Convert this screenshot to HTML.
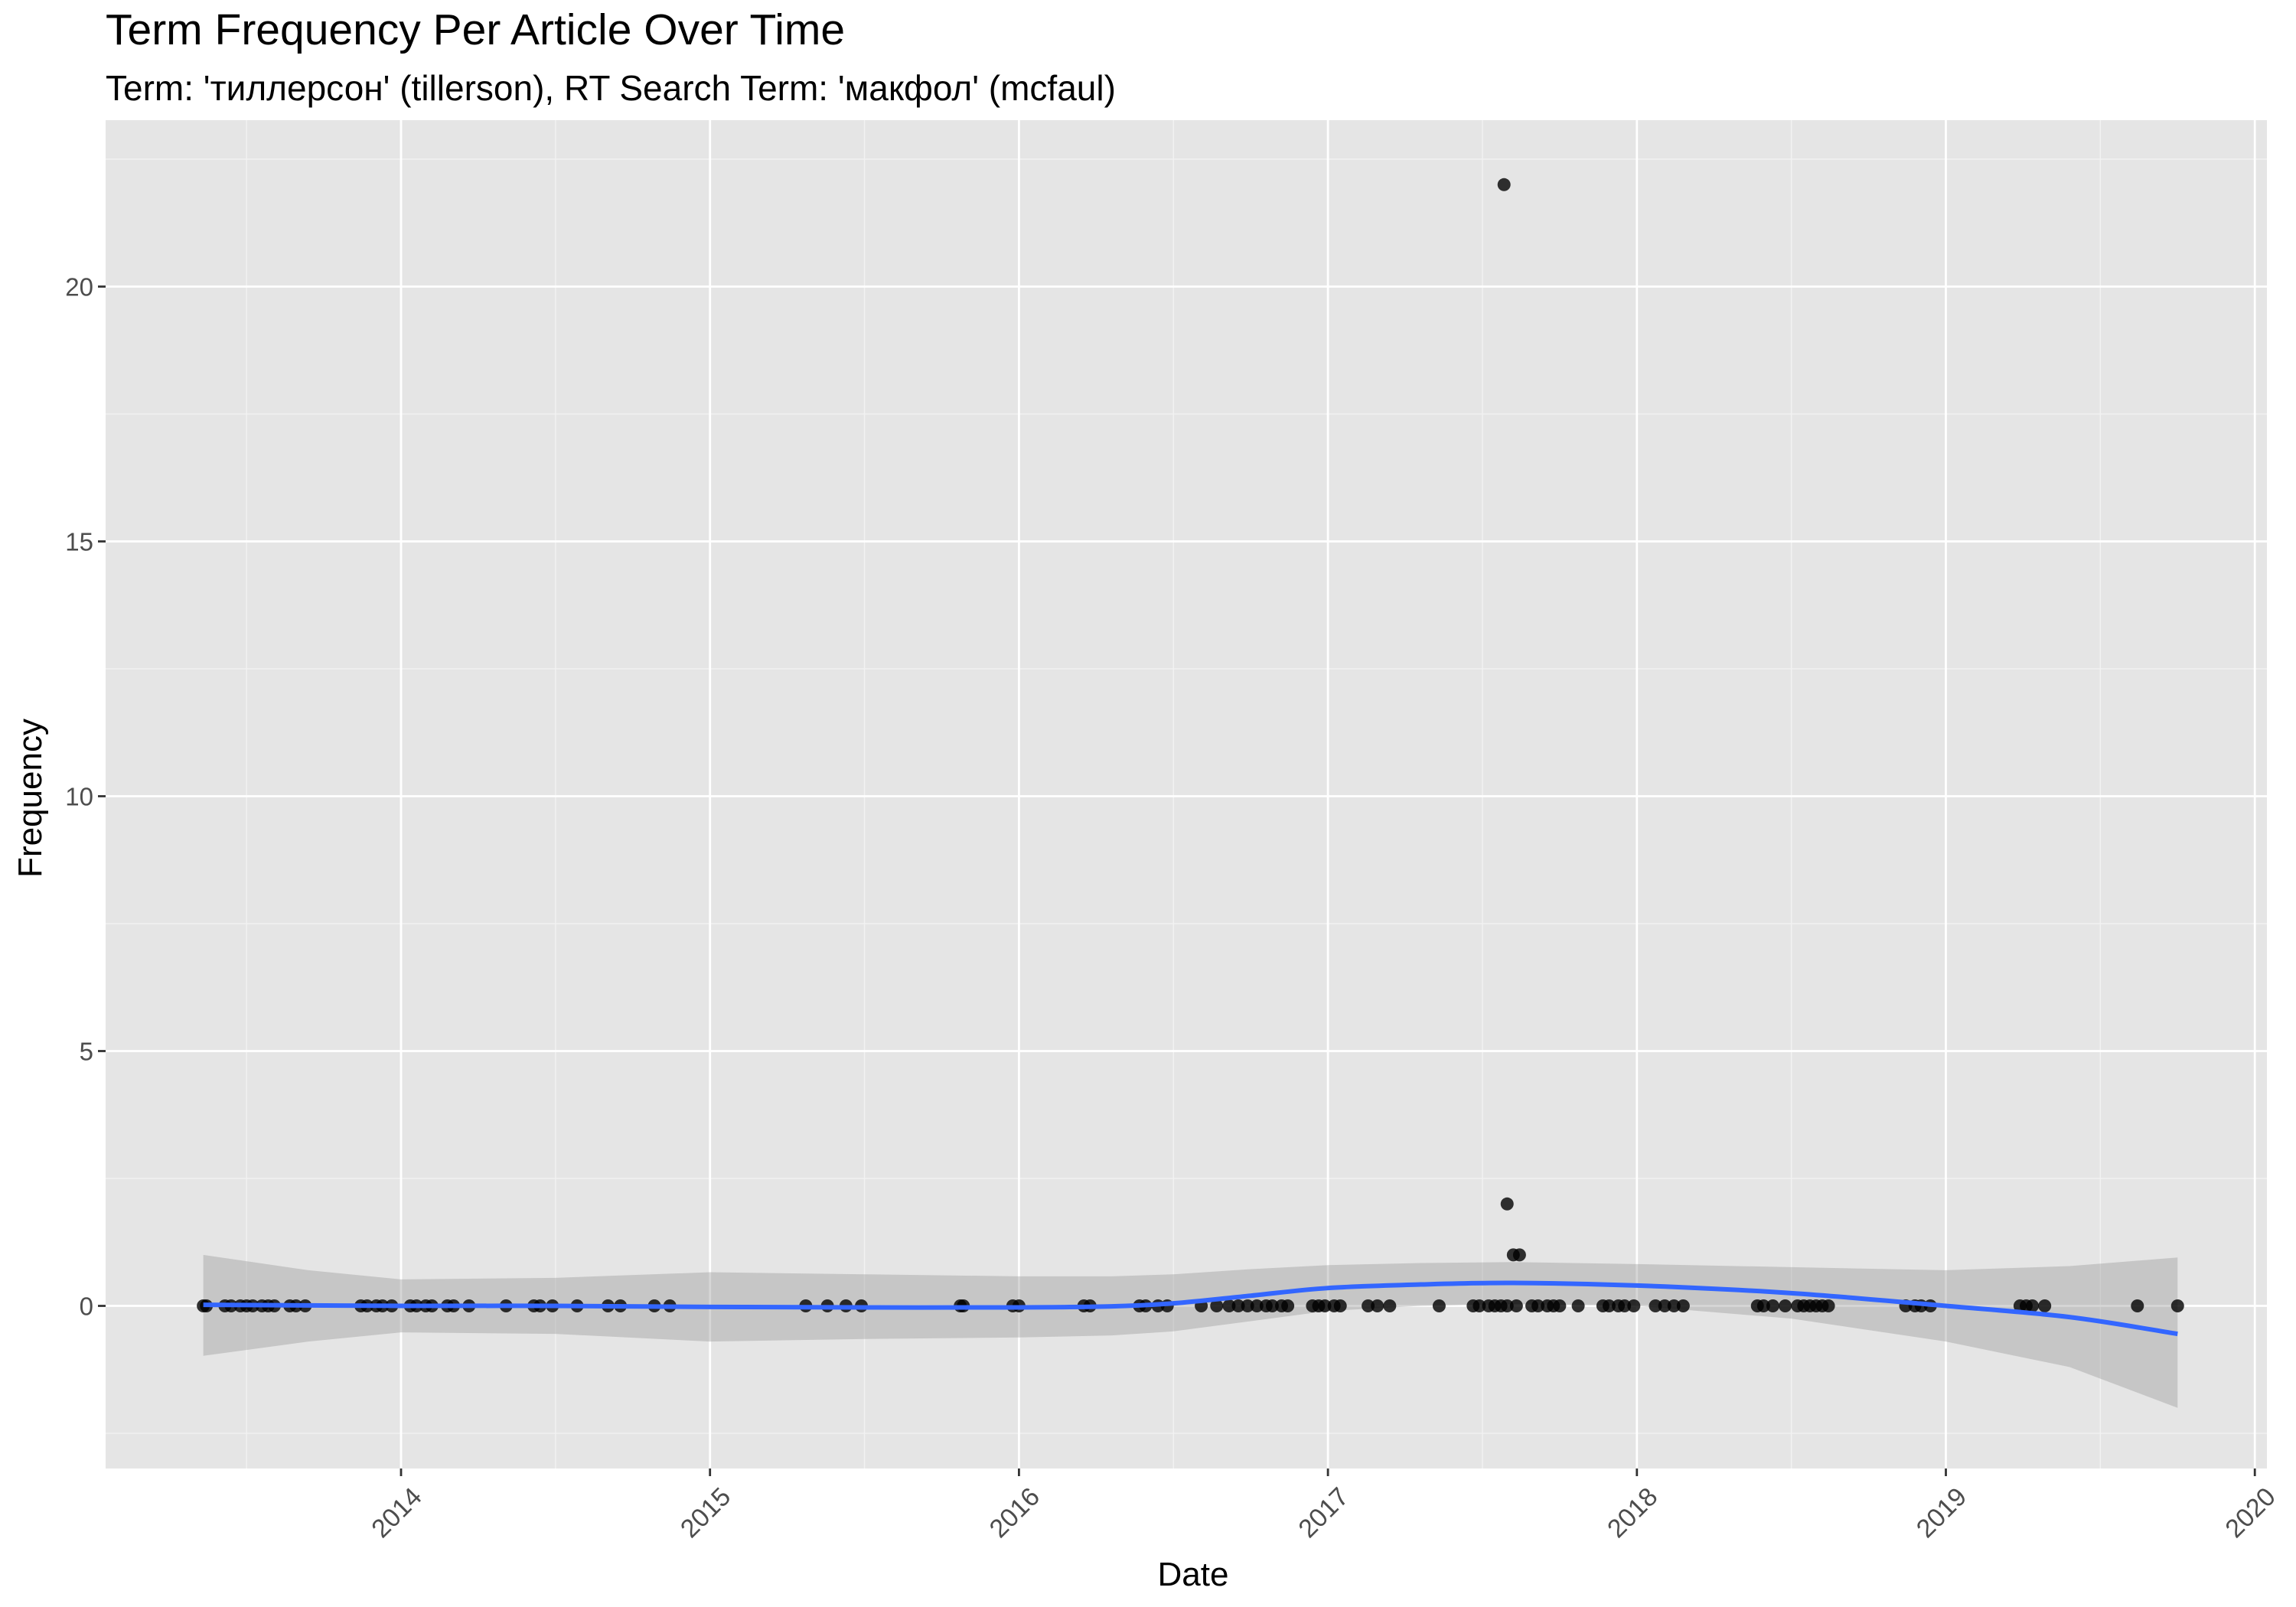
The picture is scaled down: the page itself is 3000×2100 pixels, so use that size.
<!DOCTYPE html>
<html><head><meta charset="utf-8">
<style>
html,body{margin:0;padding:0;background:#fff;}
svg{display:block;font-family:"Liberation Sans",Arial,"DejaVu Sans",sans-serif;}
</style></head>
<body>
<svg id="chart" width="3000" height="2100" viewBox="0 0 3000 2100">
<text x="138" y="58" font-size="57" fill="#000">Term Frequency Per Article Over Time</text>
<text x="138" y="131" font-size="46" fill="#000">Term: 'тиллерсон' (tillerson), RT Search Term: 'макфол' (mcfaul)</text>
<rect x="138" y="157" width="2824" height="1762" fill="#e5e5e5"/>
<g id="grid"></g><g id="band"></g><g id="pts"></g><g id="line"></g><g id="axes"></g>
<text x="1559" y="2072" font-size="44" text-anchor="middle" fill="#000">Date</text>
<text transform="translate(54,1043) rotate(-90)" font-size="44" text-anchor="middle" fill="#000">Frequency</text>
</svg>
<script>
const xTicks = [2014,2015,2016,2017,2018,2019,2020];
const yTicks = [0,5,10,15,20];
const pointDates = [2017.57,2017.58,2017.60,2017.62,
2013.36,2013.37,2013.43,2013.45,2013.48,2013.50,2013.52,2013.55,2013.57,2013.59,
2013.64,2013.66,2013.69,2013.87,2013.89,2013.92,2013.94,2013.97,2014.03,2014.05,
2014.08,2014.10,2014.15,2014.17,2014.22,2014.34,2014.43,2014.45,2014.49,2014.57,
2014.67,2014.71,2014.82,2014.87,2015.31,2015.38,2015.44,2015.49,2015.81,2015.82,
2015.98,2016.00,2016.21,2016.23,2016.39,2016.41,2016.45,2016.48,2016.59,2016.64,
2016.68,2016.71,2016.74,2016.77,2016.80,2016.82,2016.85,2016.87,2016.95,2016.97,
2016.99,2017.02,2017.04,2017.13,2017.16,2017.20,2017.36,2017.47,2017.49,2017.52,
2017.54,2017.56,2017.58,2017.61,2017.66,2017.68,2017.71,2017.73,2017.75,2017.81,
2017.89,2017.91,2017.94,2017.96,2017.99,2018.06,2018.09,2018.12,2018.15,2018.39,
2018.41,2018.44,2018.48,2018.52,2018.54,2018.56,2018.58,2018.60,2018.62,2018.87,
2018.90,2018.92,2018.95,2019.24,2019.26,2019.28,2019.32,2019.62,2019.75];
const pointValues = [22,2,1,1,
0,0,0,0,0,0,0,0,0,0,
0,0,0,0,0,0,0,0,0,0,
0,0,0,0,0,0,0,0,0,0,
0,0,0,0,0,0,0,0,0,0,
0,0,0,0,0,0,0,0,0,0,
0,0,0,0,0,0,0,0,0,0,
0,0,0,0,0,0,0,0,0,0,
0,0,0,0,0,0,0,0,0,0,
0,0,0,0,0,0,0,0,0,0,
0,0,0,0,0,0,0,0,0,0,
0,0,0,0,0,0,0,0,0];
const smoothDates = [2013.36,2013.7,2014.0,2014.5,2015.0,2015.5,2016.0,2016.3,2016.5,2016.75,2017.0,2017.3,2017.6,2018.0,2018.5,2019.0,2019.4,2019.75];
const smoothFit = [0.02,0.01,0.0,0.0,-0.02,-0.03,-0.03,-0.01,0.05,0.2,0.35,0.42,0.45,0.4,0.25,0.0,-0.22,-0.55];
const smoothUpper = [1.0,0.7,0.52,0.55,0.66,0.62,0.58,0.58,0.62,0.72,0.8,0.84,0.86,0.82,0.76,0.7,0.78,0.95];
const smoothLower = [-0.98,-0.7,-0.52,-0.55,-0.7,-0.65,-0.62,-0.58,-0.5,-0.3,-0.1,0.0,0.04,0.0,-0.25,-0.7,-1.2,-2.0];

const NS='http://www.w3.org/2000/svg';
const L=138,R=2962,T=157,B=1919;
const xS=v=>524+(v-2014)*403.7;
const yS=v=>1706.5-v*66.6;
function mk(tag,attrs,parent){const e=document.createElementNS(NS,tag);for(const k in attrs)e.setAttribute(k,attrs[k]);document.getElementById(parent).appendChild(e);return e;}

for(let y=2013.5;y<=2019.5;y+=1){const e=mk('line',{x1:xS(y),x2:xS(y),y1:T,y2:B,stroke:'#f2f2f2','stroke-width':1.4},'grid');

}
for(let v=-2.5;v<=22.5;v+=5){const e=mk('line',{x1:L,x2:R,y1:yS(v),y2:yS(v),stroke:'#f2f2f2','stroke-width':1.4},'grid');

}
xTicks.forEach(t=>{const e=mk('line',{x1:xS(t),x2:xS(t),y1:T,y2:B,stroke:'#fff','stroke-width':2.8},'grid');


const k=mk('line',{x1:xS(t),x2:xS(t),y1:B,y2:B+10,stroke:'#333','stroke-width':2.8},'axes');


const ax=xS(t)+12, ay=B+22;
const lb=mk('text',{x:ax,y:ay,'font-size':34,fill:'#4d4d4d','text-anchor':'end',transform:`rotate(-45 ${ax} ${ay})`,'dominant-baseline':'hanging'},'axes');
lb.textContent=t;

});
yTicks.forEach(t=>{const e=mk('line',{x1:L,x2:R,y1:yS(t),y2:yS(t),stroke:'#fff','stroke-width':2.8},'grid');


const k=mk('line',{x1:L-10,x2:L,y1:yS(t),y2:yS(t),stroke:'#333','stroke-width':2.8},'axes');


const lb=mk('text',{x:L-16,y:yS(t)+12,'font-size':33,fill:'#4d4d4d','text-anchor':'end'},'axes');
lb.textContent=t;

});

let d='M'+smoothDates.map((x,i)=>xS(x)+','+yS(smoothUpper[i])).join('L');
for(let i=smoothDates.length-1;i>=0;i--)d+='L'+xS(smoothDates[i])+','+yS(smoothLower[i]);
const band=mk('path',{d:d+'Z',fill:'#999','fill-opacity':0.4},'band');



pointDates.forEach((x,i)=>{const c=mk('circle',{cx:xS(x),cy:yS(pointValues[i]),r:8.5,fill:'#000','fill-opacity':0.8},'pts');

});

const P=smoothDates.map((x,i)=>[xS(x),yS(smoothFit[i])]);
let ld='M'+P[0].join(',');
for(let i=0;i<P.length-1;i++){const p0=P[i-1]||P[i],p1=P[i],p2=P[i+1],p3=P[i+2]||P[i+1];
ld+=`C${p1[0]+(p2[0]-p0[0])/6},${p1[1]+(p2[1]-p0[1])/6} ${p2[0]-(p3[0]-p1[0])/6},${p2[1]-(p3[1]-p1[1])/6} ${p2[0]},${p2[1]}`;}
const ln=mk('path',{d:ld,fill:'none',stroke:'#3366ff','stroke-width':6},'line');


</script>
</body></html>
